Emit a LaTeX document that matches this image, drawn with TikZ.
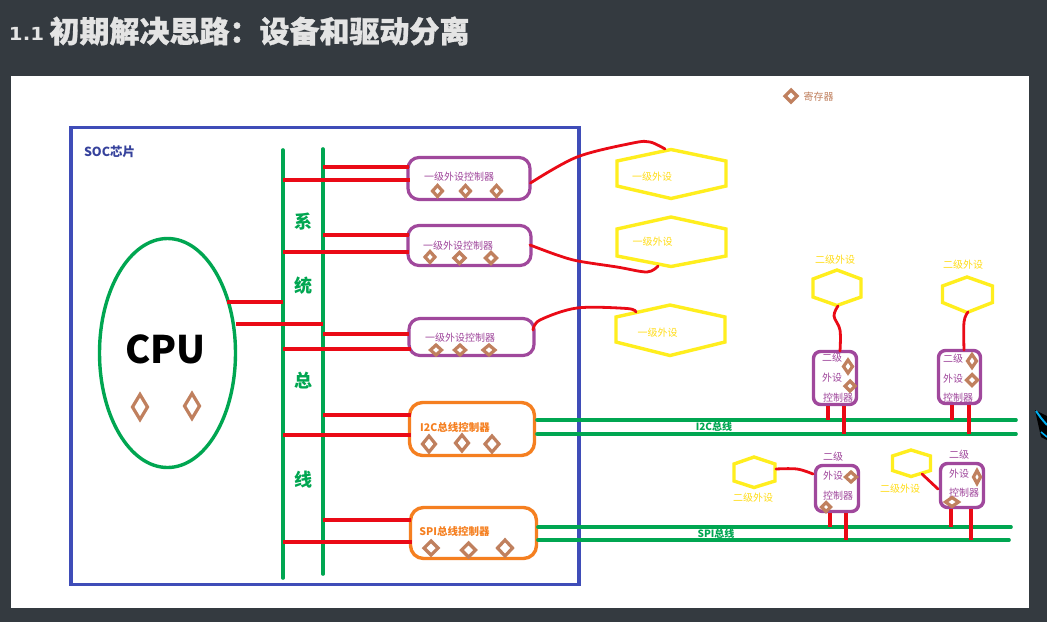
\documentclass[tikz,border=0pt]{standalone}
\usepackage{fontspec}
\setmainfont{Noto Sans CJK SC}
\newfontfamily\numfont{DejaVu Sans}
\newfontfamily\heavy[BoldFeatures={FakeBold=1}]{Noto Sans CJK SC}
\usetikzlibrary{calc,shapes.geometric}
\definecolor{slate}{HTML}{343A40}
\definecolor{socblue}{HTML}{3F4DB8}
\definecolor{socgreen}{HTML}{00A651}
\definecolor{wire}{HTML}{EA0A16}
\definecolor{plum}{HTML}{A0489C}
\definecolor{amber}{HTML}{F57F20}
\definecolor{lemon}{HTML}{FFEE1E}
\definecolor{clay}{HTML}{C0805E}
\definecolor{titlegrey}{HTML}{E4E4E4}
\tikzset{
  px/.style={x=1pt,y=-1pt},
  lbl/.style={inner sep=0pt,outer sep=0pt,font=\fontsize{#1}{#1}\selectfont},
  busline/.style={draw=socgreen,line width=3.6pt,line cap=round},
  wireline/.style={draw=wire,line width=3.6pt},
  curveline/.style={draw=wire,line width=2.8pt,line cap=round,line join=round},
  plumbox/.style={draw=plum,line width=3.2pt,rounded corners=11pt,inner sep=0pt,outer sep=0pt},
  amberbox/.style={draw=amber,line width=3.4pt,rounded corners=13pt,inner sep=0pt,outer sep=0pt},
  smallbox/.style={draw=plum,line width=3.4pt,rounded corners=7pt,inner sep=0pt,outer sep=0pt},
  hexline/.style={draw=lemon,line width=3.4pt,line join=miter},
  gemline/.style={draw=clay,fill=white,line width=3.2pt,line join=miter},
  plumtext/.style={lbl=10,text=plum},
  lemontext/.style={lbl=10,text=lemon!85!orange},
  ambertext/.style={lbl=10.5,text=amber,font=\fontsize{10.5}{10.5}\selectfont\bfseries},
  greentext/.style={lbl=10,text=socgreen,font=\fontsize{10}{10}\selectfont\bfseries},
  buschar/.style={lbl=18,text=socgreen,font=\fontsize{18}{18}\selectfont\bfseries},
}
\newcommand{\hexa}[8]{%
  \draw[hexline] (#2,#6)--(#2,#7)--(#3,#8)--(#4,#7)--(#4,#6)--(#3,#5)--cycle;
  \coordinate (#1) at (#3,{(#5+#8)/2});}
\newcommand{\gem}[4]{%
  \draw[gemline] ({#1-#3},#2)--(#1,{#2-#4})--({#1+#3},#2)--(#1,{#2+#4})--cycle;}
\begin{document}
\begin{tikzpicture}[px]
\useasboundingbox (0,0) rectangle (1047,622);
\fill[slate] (0,0) rectangle (1047,622);
\fill[white] (11,76) rectangle (1029,608);
% title
\node[lbl=18,text=titlegrey,anchor=west,xscale=1.1,font=\fontsize{18}{18}\selectfont\bfseries\numfont] (ttlnum) at (9,33.5) {1.1};
\node[lbl=30,text=titlegrey,anchor=west,font=\heavy\fontsize{30}{30}\selectfont\bfseries] (ttl) at (49.5,31) {初期解决思路：设备和驱动分离};
% legend
\gem{791}{96}{6}{6}
\node[lbl=10,text=clay,anchor=west] (lgd) at (803.5,96.5) {寄存器};
% SoC
\draw[socblue,line width=3.2pt] (71,127.5) rectangle (579,584.5);
\node[lbl=12.5,text=socblue!85!black,anchor=west,font=\fontsize{12.5}{12.5}\selectfont\bfseries] (soc) at (84,152) {SOC芯片};
% CPU
\node[draw=socgreen,line width=3.4pt,ellipse,inner sep=0pt,outer sep=0pt,minimum width=136pt,minimum height=229pt] (cpu) at (167.5,353) {};
\node[lbl=38,text=black,font=\fontsize{38}{38}\selectfont\bfseries] (cputxt) at (165.5,349) {CPU};
\gem{140}{407}{7.5}{12.5}
\gem{192}{406}{7.5}{12.5}
% system bus
\coordinate (busAt) at (283,150);
\coordinate (busAb) at (283,578);
\coordinate (busBt) at (323,149);
\coordinate (busBb) at (323,574);
\draw[busline] (busAt)--(busAb);
\draw[busline] (busBt)--(busBb);
\node[buschar] (b1) at (303,222) {系};
\node[buschar] (b2) at (303,286) {统};
\node[buschar] (b3) at (303,381) {总};
\node[buschar] (b4) at (303,480) {线};
% first-level controllers
\node[plumbox,minimum width=122pt,minimum height=42pt] (c1) at (469,178.5) {};
\node[plumbox,minimum width=123pt,minimum height=40pt] (c2) at (469.5,245.5) {};
\node[plumbox,minimum width=125pt,minimum height=37pt] (c3) at (471.5,337) {};
\node[amberbox,minimum width=125pt,minimum height=53pt] (c4) at (472,429) {};
\node[amberbox,minimum width=126pt,minimum height=51pt] (c5) at (473.5,533) {};
\node[plumtext] (t1) at (459,177) {一级外设控制器};
\node[plumtext] (t2) at (458,246) {一级外设控制器};
\node[plumtext] (t3) at (460,338) {一级外设控制器};
\node[ambertext] (t4) at (455,427) {I2C总线控制器};
\node[ambertext] (t5) at (454.5,531) {SPI总线控制器};
\gem{437.5}{191}{5}{5.5}\gem{465.5}{191}{5}{5.5}\gem{496.5}{191}{5}{5.5}
\gem{430}{257}{5}{5.5}\gem{459.5}{258}{5.5}{5.5}\gem{491}{258}{5.5}{5.5}
\gem{436}{350}{5.5}{5}\gem{460}{350}{5.5}{5}\gem{489}{350}{6}{5}
\gem{429}{444}{6.5}{8}\gem{462}{443}{6.5}{8}\gem{492}{444}{7}{8}
\gem{431}{548}{7}{7}\gem{468.5}{550}{7}{7}\gem{505}{548}{7.5}{8}
% ports on the controllers
\coordinate (c1a) at (409,167);\coordinate (c1b) at (410,180);
\coordinate (c2a) at (409,235);\coordinate (c2b) at (409,252);
\coordinate (c3a) at (409,334);\coordinate (c3b) at (411,349);
\coordinate (c4a) at (411,415);\coordinate (c4b) at (411,435);
\coordinate (c5a) at (411,520);\coordinate (c5b) at (412,542);
\draw[wireline] (busBt |- c1a)--(c1a);
\draw[wireline] (busAt |- c1b)--(c1b);
\draw[wireline] (busBt |- c2a)--(c2a);
\draw[wireline] (busAt |- c2b)--(c2b);
\draw[wireline] (busBt |- c3a)--(c3a);
\draw[wireline] (busAt |- c3b)--(c3b);
\draw[wireline] (busBt |- c4a)--(c4a);
\draw[wireline] (busAt |- c4b)--(c4b);
\draw[wireline] (busBt |- c5a)--(c5a);
\draw[wireline] (busAt |- c5b)--(c5b);
% cpu to bus
\coordinate (cpua) at (227,302);
\coordinate (cpub) at (236,324);
\draw[wireline] (cpua)--(busAt |- cpua);
\draw[wireline] (cpub)--(busBt |- cpub);
% first-level peripherals
\hexa{h1}{617}{671}{726}{149.5}{161}{186}{198.5}
\hexa{h2}{617}{671}{726}{217}{229}{256}{266.5}
\hexa{h3}{616}{670}{725}{305}{317}{342}{355.5}
\node[lemontext] (p1) at (652,177) {一级外设};
\node[lemontext] (p2) at (652.5,242) {一级外设};
\node[lemontext] (p3) at (657.5,333) {一级外设};
\coordinate (c1p) at (530.5,183);\coordinate (h1p) at (665,149);
\coordinate (c2p) at (530,245);\coordinate (h2p) at (658,266);
\coordinate (c3p) at (533,330);\coordinate (h3p) at (636,312);
\draw[curveline] plot[smooth,tension=.55] coordinates {(c1p) (577,157) (633,143) (650,142) (h1p)};
\draw[curveline] plot[smooth,tension=.55] coordinates {(c2p) (557,255) (578,261) (617,267) (647,272) (h2p)};
\draw[curveline] plot[smooth,tension=.55] coordinates {(c3p) (540,320) (577,308) (627,308.5) (h3p)};
% external buses
\coordinate (i2cL) at (537,420);\coordinate (i2cR) at (1016,420);
\coordinate (i2cL2) at (537,434);\coordinate (i2cR2) at (1016,434);
\coordinate (spiL) at (538,527);\coordinate (spiR) at (1011,527);
\coordinate (spiL2) at (538,540);\coordinate (spiR2) at (1009,540);
\draw[busline] (i2cL)--(i2cR);
\draw[busline] (i2cL2)--(i2cR2);
\draw[busline] (spiL)--(spiR);
\draw[busline] (spiL2)--(spiR2);
\node[greentext] (i2clbl) at (714,427) {I2C总线};
\node[greentext] (spilbl) at (716,534) {SPI总线};
% second-level controllers
\node[smallbox,minimum width=43pt,minimum height=53pt] (sA) at (835,378) {};
\node[smallbox,minimum width=42pt,minimum height=53pt] (sB) at (959.5,377) {};
\node[smallbox,minimum width=43pt,minimum height=46pt] (sC) at (837,488.5) {};
\node[smallbox,minimum width=43pt,minimum height=44pt] (sD) at (962,485.5) {};
\node[plumtext] (a1) at (832,358) {二级};
\node[plumtext] (a2) at (832,378) {外设};
\node[plumtext] (a3) at (838,398) {控制器};
\node[plumtext] (e1) at (953,359) {二级};
\node[plumtext] (e2) at (953,379) {外设};
\node[plumtext] (e3) at (958,398) {控制器};
\node[plumtext] (f1) at (833,457) {二级};
\node[plumtext] (f2) at (833,476) {外设};
\node[plumtext] (f3) at (838,496) {控制器};
\node[plumtext] (g1) at (959,455) {二级};
\node[plumtext] (g2) at (959,474) {外设};
\node[plumtext] (g3) at (964,493) {控制器};
\gem{848}{366.5}{4.5}{6.5}\gem{850}{386}{5}{5}
\gem{972}{361}{4.5}{6.5}\gem{972}{380}{5.5}{5.5}
\gem{851}{477}{5.5}{5}\gem{826}{507}{4.5}{4.5}
\gem{977}{477}{3.5}{6.5}\gem{952}{502}{6.5}{4.5}
% tap lines from second-level controllers to the buses
\coordinate (sAa) at (828,406);\coordinate (sAb) at (844,406);
\coordinate (sBa) at (952,405);\coordinate (sBb) at (969,405);
\coordinate (sCa) at (830,513);\coordinate (sCb) at (846,513);
\coordinate (sDa) at (951,509);\coordinate (sDb) at (971,509);
\draw[wireline] (sAa)--(sAa |- i2cL);
\draw[wireline] (sAb)--(sAb |- i2cL2);
\draw[wireline] (sBa)--(sBa |- i2cL);
\draw[wireline] (sBb)--(sBb |- i2cL2);
\draw[wireline] (sCa)--(sCa |- spiL);
\draw[wireline] (sCb)--(sCb |- spiL2);
\draw[wireline] (sDa)--(sDa |- spiL);
\draw[wireline] (sDb)--(sDb |- spiL2);
% second-level peripherals
\hexa{hA}{813}{837}{861}{270}{279}{297}{305.5}
\hexa{hB}{942.5}{967}{992.5}{277}{286}{302.5}{312.5}
\hexa{hC}{734}{754}{775}{457}{464}{481}{487.5}
\hexa{hD}{892.5}{911}{930.5}{450}{456}{470.5}{476.5}
\node[lemontext] (q1) at (835,260) {二级外设};
\node[lemontext] (q2) at (963,265) {二级外设};
\node[lemontext] (q3) at (753,498) {二级外设};
\node[lemontext] (q4) at (900,489) {二级外设};
\coordinate (hAp) at (838,306);\coordinate (sAp) at (840,351);
\coordinate (hBp) at (968,312);\coordinate (sBp) at (964,350);
\coordinate (hCp) at (776,469);\coordinate (sCp) at (813,474);
\coordinate (hDp) at (922,474);\coordinate (sDp) at (938,489);
\draw[curveline] plot[smooth,tension=.6] coordinates {(hAp) (834,316) (840,330) (sAp)};
\draw[curveline] plot[smooth,tension=.6] coordinates {(hBp) (964,322) (sBp)};
\draw[curveline] plot[smooth,tension=.6] coordinates {(hCp) (797,469) (sCp)};
\draw[curveline] (hDp)--(sDp);
% cursor at the right edge
\fill[black] (1035,410)--(1047,416)--(1047,440)--(1041,437)--cycle;
\draw[cyan,line width=2pt] (1036,411)--(1041,418)--(1047,425);
\draw[cyan,line width=1.6pt] (1041,432)--(1047,437);
\end{tikzpicture}
\end{document}
